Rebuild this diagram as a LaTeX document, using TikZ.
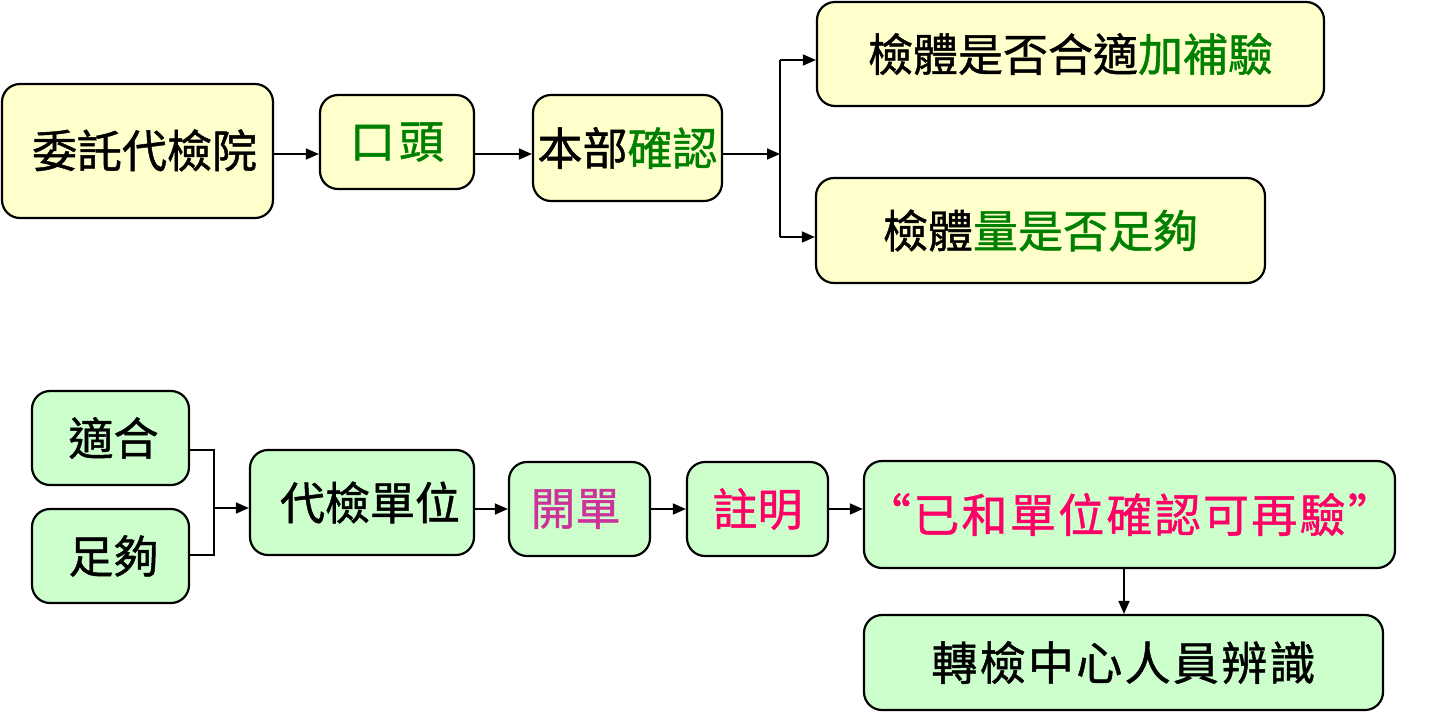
\documentclass[tikz,border=0pt]{standalone}
\usepackage{fontspec}
\newfontfamily\cjk[FakeBold=1]{Noto Sans CJK TC}
\newfontfamily\cjkw[FakeBold=1,LetterSpace=5]{Noto Sans CJK TC}
\usetikzlibrary{arrows.meta}
\definecolor{boxy}{HTML}{FFFFCC}
\definecolor{boxg}{HTML}{CCFFCC}
\definecolor{tgreen}{HTML}{008000}
\definecolor{tpink}{HTML}{FF0066}
\definecolor{tmag}{HTML}{CC3399}
\tikzset{
  box/.style={draw=black, line width=2.2pt, rounded corners=18pt, inner sep=0pt, font=\cjk\fontsize{45}{50}\selectfont},
  ybox/.style={box, fill=boxy},
  gbox/.style={box, fill=boxg},
  conn/.style={line width=1.6pt, -{Triangle[length=13pt,width=11pt]}},
  plain/.style={line width=1.6pt}
}
\begin{document}
\begin{tikzpicture}[x=1pt,y=-1pt]
\useasboundingbox (0,0) rectangle (1437,721);
% top row
\node[ybox, minimum width=271pt, minimum height=134pt] (a) at (137.5,151) {\raisebox{5pt}{\hspace*{14pt}委託代檢院}};
\node[ybox, minimum width=154pt, minimum height=94pt] (b) at (397,142) {\textcolor{tgreen}{口\hspace{4pt}頭}};
\node[ybox, minimum width=189pt, minimum height=106pt] (c) at (627.5,148) {本部\textcolor{tgreen}{確認}};
\node[ybox, minimum width=507pt, minimum height=104pt] (d) at (1070.5,54) {\raisebox{3pt}{檢體是否合適\textcolor{tgreen}{加補驗}}};
\node[ybox, minimum width=449pt, minimum height=105pt] (e) at (1040.5,230.5) {檢體\textcolor{tgreen}{量是否足夠}};
\coordinate (r1) at (0,154);
\coordinate (j) at (780,154);
\coordinate (jd) at (780,60);
\coordinate (je) at (780,237);
\draw[conn] (a.east|-r1) -- (b.west|-r1);
\draw[conn] (b.east|-r1) -- (c.west|-r1);
\draw[conn] (c.east|-r1) -- (j);
\draw[conn] (jd) -- (jd-|d.west);
\draw[conn] (je) -- (je-|e.west);
\draw[plain] (jd) -- (je);
% bottom
\node[gbox, minimum width=157pt, minimum height=94pt] (f) at (110.5,438) {\hspace*{6pt}適合};
\node[gbox, minimum width=157pt, minimum height=94pt] (g) at (110.5,556) {\hspace*{6pt}足夠};
\node[gbox, minimum width=224pt, minimum height=105pt] (h) at (362,502.5) {\hspace*{16pt}代檢單位};
\node[gbox, minimum width=141pt, minimum height=94pt] (i) at (579.5,509) {\textcolor{tmag}{開單}\hspace*{8pt}};
\node[gbox, minimum width=141pt, minimum height=94pt] (k) at (757.5,509) {\textcolor{tpink}{註明}};
\node[gbox, minimum width=531pt, minimum height=107pt] (l) at (1129.5,514.5) {\textcolor{tpink}{\cjkw\fontsize{46}{50}\selectfont “已和單位確認可再驗”}};
\node[gbox, minimum width=519pt, minimum height=95pt] (m) at (1123.5,662.5) {\cjkw\fontsize{46}{50}\selectfont 轉檢中心人員辨識};
\coordinate (r2) at (0,509);
\coordinate (bt) at (214,450);
\coordinate (bb) at (214,555);
\coordinate (bm) at (214,508);
\draw[plain] (bt-|f.east) -- (bt) -- (bb) -- (bb-|g.east);
\draw[conn] (bm) -- (bm-|h.west);
\draw[conn] (h.east|-r2) -- (i.west|-r2);
\draw[conn] (i.east|-r2) -- (k.west|-r2);
\draw[conn] (k.east|-r2) -- (l.west|-r2);
\draw[conn] (l.south-|m.north) ++(0.5,0) coordinate (ls) (ls) -- (ls|-m.north);
\end{tikzpicture}
\end{document}
